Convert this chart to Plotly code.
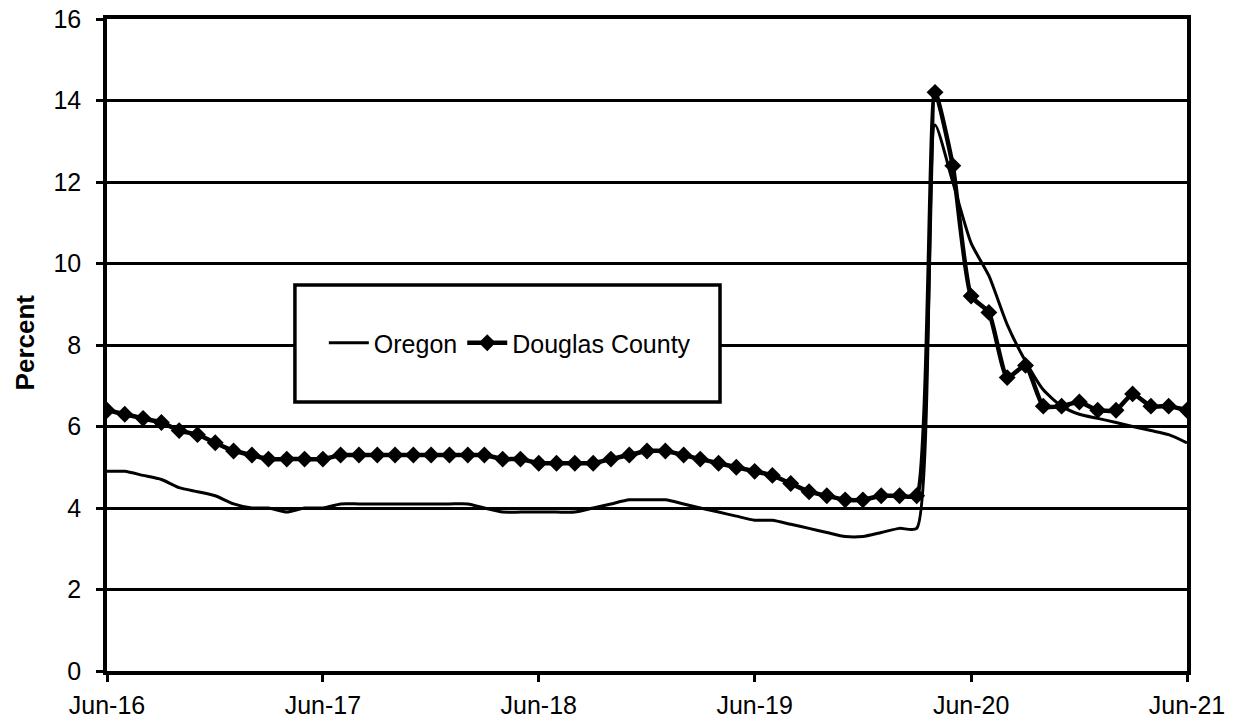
import plotly.graph_objects as go
import pandas as pd

dates = pd.date_range("2016-06-01", "2021-06-01", freq="MS")

oregon = [4.9, 4.9, 4.8, 4.7, 4.5, 4.4, 4.3, 4.1, 4.0, 4.0, 3.9, 4.0, 4.0,
          4.1, 4.1, 4.1, 4.1, 4.1, 4.1, 4.1, 4.1, 4.0, 3.9, 3.9, 3.9,
          3.9, 3.9, 4.0, 4.1, 4.2, 4.2, 4.2, 4.1, 4.0, 3.9, 3.8, 3.7,
          3.7, 3.6, 3.5, 3.4, 3.3, 3.3, 3.4, 3.5, 3.5, 13.4, 12.0, 10.5,
          9.7, 8.5, 7.6, 6.9, 6.5, 6.3, 6.2, 6.1, 6.0, 5.9, 5.8, 5.6]

douglas = [6.4, 6.3, 6.2, 6.1, 5.9, 5.8, 5.6, 5.4, 5.3, 5.2, 5.2, 5.2, 5.2,
           5.3, 5.3, 5.3, 5.3, 5.3, 5.3, 5.3, 5.3, 5.3, 5.2, 5.2, 5.1,
           5.1, 5.1, 5.1, 5.2, 5.3, 5.4, 5.4, 5.3, 5.2, 5.1, 5.0, 4.9,
           4.8, 4.6, 4.4, 4.3, 4.2, 4.2, 4.3, 4.3, 4.3, 14.2, 12.4, 9.2,
           8.8, 7.2, 7.5, 6.5, 6.5, 6.6, 6.4, 6.4, 6.8, 6.5, 6.5, 6.4]

tick_dates = ["2016-06-01", "2017-06-01", "2018-06-01", "2019-06-01", "2020-06-01", "2021-06-01"]
tick_labels = ["Jun-16", "Jun-17", "Jun-18", "Jun-19", "Jun-20", "Jun-21"]
y_ticks = [0, 2, 4, 6, 8, 10, 12, 14, 16]

FONT = "Arial, Liberation Sans, sans-serif"
FS = 25

fig = go.Figure()
fig.add_trace(go.Scatter(
    x=dates, y=oregon, name="Oregon", mode="lines",
    line=dict(color="black", width=3, shape="spline", smoothing=0.6),
))
fig.add_trace(go.Scatter(
    x=dates, y=douglas, name="Douglas County", mode="lines+markers",
    line=dict(color="black", width=4.5, shape="spline", smoothing=0.5),
    marker=dict(symbol="diamond", size=13, color="black"),
))

# legend box
fig.add_shape(type="rect", xref="paper", yref="paper",
              x0=0.174, x1=0.5676, y0=0.4126, y1=0.592,
              line=dict(color="black", width=3.5), fillcolor="white", layer="above")

fig.add_annotation(text="<b>Percent</b>", xref="paper", yref="paper",
                   x=-0.0759, y=0.504, xanchor="center", yanchor="middle",
                   textangle=-90, showarrow=False,
                   font=dict(family=FONT, size=26, color="black"))

fig.update_layout(
    width=1238, height=721,
    margin=dict(l=107, r=51, t=19, b=50),
    paper_bgcolor="white", plot_bgcolor="white",
    font=dict(family=FONT, size=FS, color="black"),
    showlegend=True,
    legend=dict(orientation="h", x=0.373, y=0.503, xanchor="center", yanchor="middle",
                bgcolor="rgba(0,0,0,0)", borderwidth=0,
                font=dict(family=FONT, size=FS, color="black"),
                itemwidth=40, traceorder="normal"),
    xaxis=dict(
        type="date", automargin=False, ticklabeloverflow="allow",
        range=["2016-06-01", "2021-06-01"],
        tickvals=tick_dates, ticktext=tick_labels,
        showgrid=False, zeroline=False,
        showline=True, linecolor="black", linewidth=3.5, mirror=True,
        ticks="outside", ticklen=7, tickwidth=3, tickcolor="black",
        ticklabelstandoff=2,
        tickfont=dict(family=FONT, size=FS, color="black"),
    ),
    yaxis=dict(
        automargin=False, ticklabeloverflow="allow",
        range=[0, 16], tickvals=y_ticks,
        showgrid=True, gridcolor="black", gridwidth=3,
        zeroline=False,
        showline=True, linecolor="black", linewidth=3.5, mirror=True,
        ticks="outside", ticklen=7, tickwidth=3, tickcolor="black",
        ticklabelstandoff=10,
        tickfont=dict(family=FONT, size=FS, color="black"),
    ),
)

fig.write_html("out.html", config={"displayModeBar": False},
               post_script="document.body.style.margin='0';")
